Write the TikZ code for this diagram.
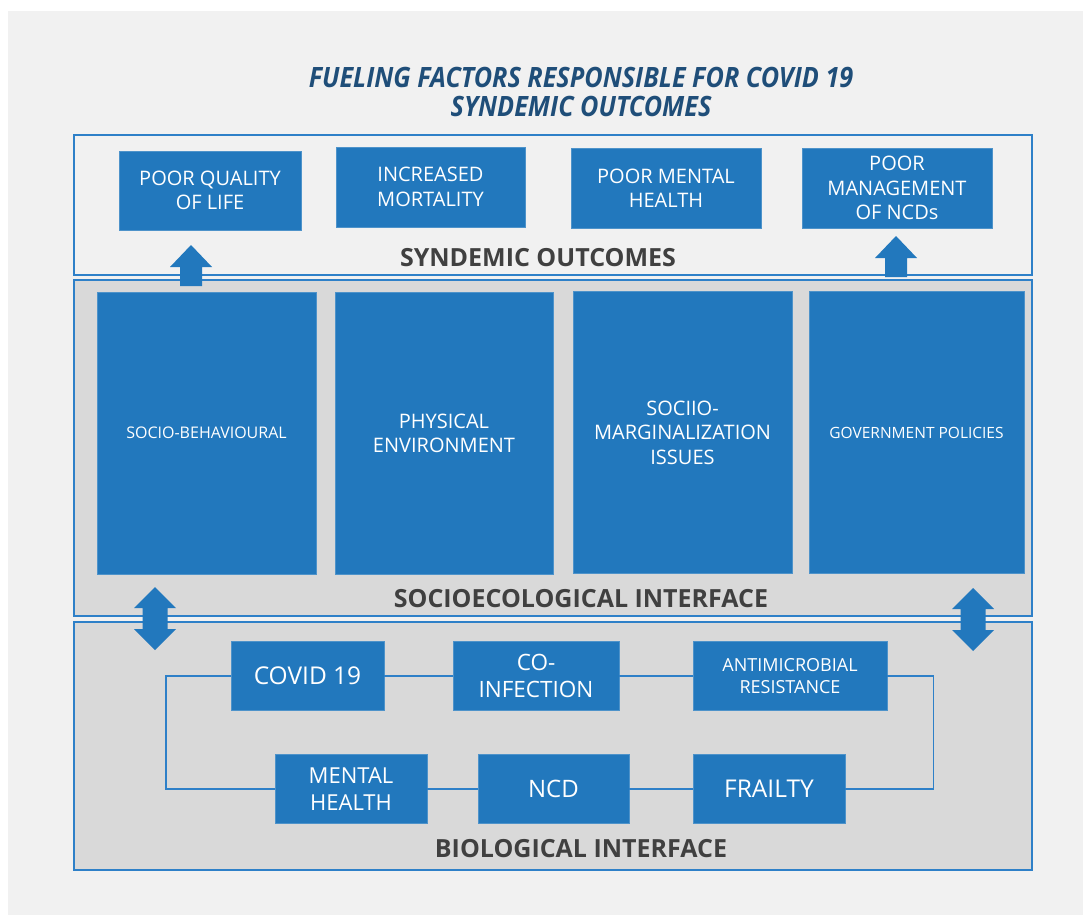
\documentclass[tikz,border=0pt]{standalone}
\usepackage{fontspec}
\setmainfont{Open Sans}
\newfontfamily\titlefont[FakeStretch=0.9]{Open Sans}
\usepackage{tikz}
\usetikzlibrary{positioning}
\definecolor{boxblue}{RGB}{34,120,189}
\definecolor{lineblue}{RGB}{46,128,200}
\definecolor{titleblue}{RGB}{31,78,121}
\definecolor{labelgray}{RGB}{64,64,64}
\definecolor{bggray}{RGB}{241,241,241}
\definecolor{midgray}{RGB}{217,217,217}
\newcommand{\fsz}[1]{\fontsize{#1}{1.22\dimexpr#1pt\relax}\selectfont}

\begin{document}
\begin{tikzpicture}[
x=1pt, y=-1pt,
OutBox/.style={draw=boxblue!80!white, fill=boxblue, text=white, align=center, inner sep=0pt, line width=0.6pt},
Outcome/.style={OutBox, minimum width=190, minimum height=80, font=\fsz{20}},
Factor/.style={OutBox, minimum height=282, font=\fsz{20}},
BioBox/.style={OutBox, minimum height=69},
Panel/.style={draw=lineblue, line width=2pt},
PanelLabel/.style={text=labelgray, font=\bfseries\fsz{25}},
Links/.style={draw=lineblue, line width=1.6pt},
BigArrow/.style={fill=boxblue}
]
\useasboundingbox (0,0) rectangle (1083,915);
\fill[white] (0,0) rectangle (1083,915);
\fill[bggray] (8,11) rectangle (1083,915);

% title
\node[text=titleblue, align=center, font=\titlefont\bfseries\itshape\fontsize{28}{29}\selectfont] (title) at (581,92)
  {FUELING FACTORS RESPONSIBLE FOR COVID 19\\SYNDEMIC OUTCOMES};

% the three layers
\draw[Panel, fill=bggray] (74,135) rectangle (1032,275);
\draw[Panel, fill=midgray] (74,280) rectangle (1032,616);
\draw[Panel, fill=midgray] (74,622) rectangle (1032,870);

\node[PanelLabel] (outlabel) at (538,258) {SYNDEMIC OUTCOMES};
\node[PanelLabel] (seilabel) at (581,599) {SOCIOECOLOGICAL INTERFACE};
\node[PanelLabel] (biolabel) at (581,849) {BIOLOGICAL INTERFACE};

% outcomes
\node[Outcome, minimum width=182, minimum height=79] (qol) at (210,190.5) {POOR QUALITY\\OF LIFE};
\node[Outcome, minimum width=189] (mort) at (430.5,187) {INCREASED\\MORTALITY};
\node[Outcome] (pmh) at (666,188) {POOR MENTAL\\HEALTH};
\node[Outcome] (ncds) at (897,188) {POOR\\MANAGEMENT\\OF NCDs};

% socioecological factors
\node[Factor, minimum width=219, font=\fsz{16}] (sb) at (206.5,433) {SOCIO-BEHAVIOURAL};
\node[Factor, minimum width=218] (pe) at (444,433.5) {PHYSICAL\\ENVIRONMENT};
\node[Factor, minimum width=219] (sm) at (682.5,432.5) {SOCIIO-\\MARGINALIZATION\\ISSUES};
\node[Factor, minimum width=215, font=\fsz{15.5}] (gp) at (916.5,432.5) {GOVERNMENT POLICIES};

% biological
\node[BioBox, minimum width=153, font=\fsz{24.5}] (cov) at (307.5,676) {COVID 19};
\node[BioBox, minimum width=166, font=\fsz{22.5}] (coinf) at (536,676) {CO-\\INFECTION};
\node[BioBox, minimum width=194, font=\fsz{18}] (amr) at (790,676) {ANTIMICROBIAL\\RESISTANCE};
\node[BioBox, minimum width=152, font=\fsz{22}] (mh) at (351,789) {MENTAL\\HEALTH};
\node[BioBox, minimum width=151, font=\fsz{24}] (ncd) at (553.5,789) {NCD};
\node[BioBox, minimum width=152, font=\fsz{24.5}] (frail) at (769,789) {FRAILTY};

\draw[Links] (cov) -- (coinf);
\draw[Links] (coinf) -- (amr);
\draw[Links] (amr.east) -- ++(46,0) |- (frail.east);
\draw[Links] (frail) -- (ncd);
\draw[Links] (ncd) -- (mh);
\draw[Links] (mh.west) -- ++(-109,0) |- (cov.west);

% block arrows
\foreach \c/\t/\b in {191/245/286, 896/236/277}
  \fill[BigArrow] (\c,\t) -- (\c+21,\t+22) -- (\c+11,\t+22) -- (\c+11,\b)
    -- (\c-11,\b) -- (\c-11,\t+22) -- (\c-21,\t+22) -- cycle;
\foreach \c/\t/\b in {155/587/650, 973/588/651}
  \fill[BigArrow] (\c,\t) -- (\c+21,\t+21) -- (\c+12.5,\t+21) -- (\c+12.5,\b-21)
    -- (\c+21,\b-21) -- (\c,\b) -- (\c-21,\b-21) -- (\c-12.5,\b-21)
    -- (\c-12.5,\t+21) -- (\c-21,\t+21) -- cycle;

\end{tikzpicture}
\end{document}
